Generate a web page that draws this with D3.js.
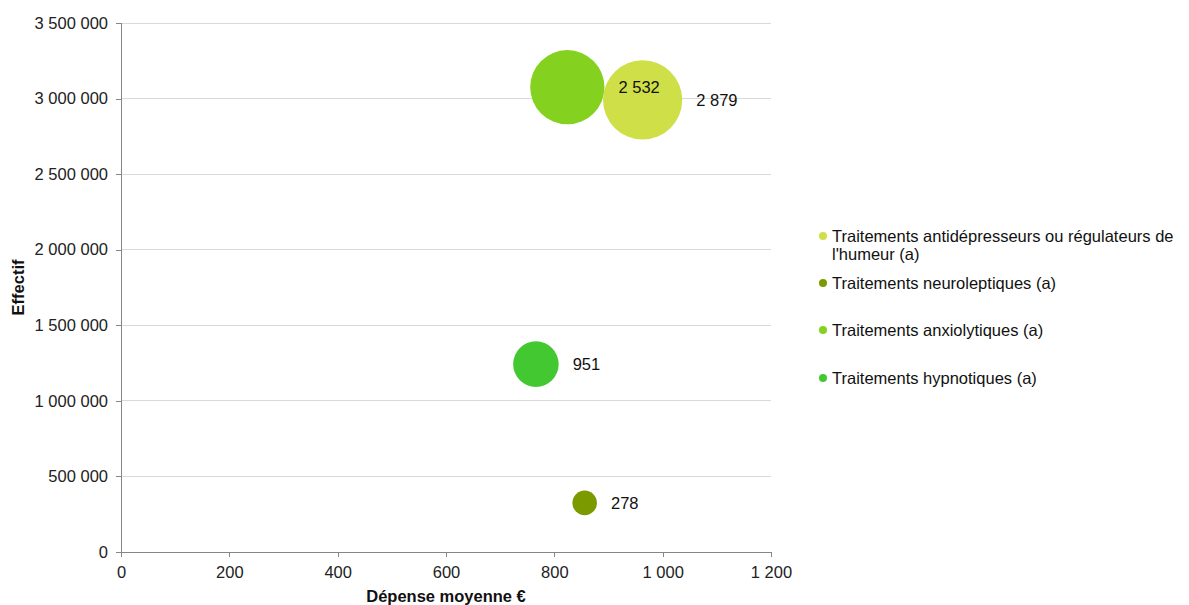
<!DOCTYPE html>
<html><head><meta charset="utf-8">
<script src="https://cdn.jsdelivr.net/npm/d3@7"></script>
<style>body{margin:0;background:#fff;}svg{display:block;font-family:"Liberation Sans",Arial,sans-serif;}</style>
</head><body><svg id="c" width="1189" height="605"></svg>
<script>
const categories = ["Traitements antidépresseurs ou régulateurs de l'humeur (a)","Traitements neuroleptiques (a)","Traitements anxiolytiques (a)","Traitements hypnotiques (a)"];
const depenseMoyenne = [963, 856, 824, 766];
const effectif = [2991000, 325000, 3075000, 1243000];
const depenseTotale = [2879, 278, 2532, 951];
const labels = ["2 879", "278", "2 532", "951"];
const colors = ["#cfdf48", "#7b9a00", "#84d21f", "#43c831"];
const xTicks = [0,200,400,600,800,1000,1200];
const yTicks = [0,500000,1000000,1500000,2000000,2500000,3000000,3500000];
const drawOrder = [3,1,2,0];

const FS = 16.5;
const svg = d3.select("#c");
const L=121, R=771, T=23, B=552;
const x = d3.scaleLinear().domain([0,1200]).range([L,R]);
const y = d3.scaleLinear().domain([0,3500000]).range([B,T]);
const r = d3.scaleSqrt().domain([0,2879]).range([0,39.6]);
const fmt = v => d3.format(",")(v).replace(/,/g," ");

// gridlines
svg.append("g").selectAll("line").data(yTicks.filter(d=>d>0)).join("line")
  .attr("x1",L).attr("x2",R).attr("y1",d=>y(d)).attr("y2",d=>y(d))
  .attr("stroke","#d9d9d9").attr("stroke-width",1).attr("shape-rendering","crispEdges");

// axes
const yAxis = svg.append("g").attr("transform",`translate(${L},0)`)
  .call(d3.axisLeft(y).tickValues(yTicks).tickFormat(fmt).tickSize(5).tickPadding(8));
const xAxis = svg.append("g").attr("transform",`translate(0,${B})`)
  .call(d3.axisBottom(x).tickValues(xTicks).tickFormat(fmt).tickSize(5).tickPadding(6));
[yAxis,xAxis].forEach(a=>{
  a.selectAll("path,line").attr("stroke","#868686").attr("shape-rendering","crispEdges");
  a.select("path.domain").attr("d", a===yAxis ? `M0,${T}V${B}` : `M${L},0H${R}`);
  a.selectAll("text").attr("font-size",FS).attr("fill","#222").attr("font-family","Liberation Sans, Arial, sans-serif");
});
xAxis.selectAll("text").attr("dy","0.9em");

// axis titles
svg.append("text").attr("x",446).attr("y",602).attr("text-anchor","middle")
  .attr("font-size",FS).attr("font-weight","bold").attr("fill","#111").text("Dépense moyenne €");
svg.append("text").attr("transform",`translate(24,${(T+B)/2}) rotate(-90)`).attr("text-anchor","middle")
  .attr("font-size",FS).attr("font-weight","bold").attr("fill","#111").text("Effectif");

// bubbles
svg.append("g").selectAll("circle").data(drawOrder).join("circle")
  .attr("cx",i=>x(depenseMoyenne[i])).attr("cy",i=>y(effectif[i]))
  .attr("r",i=>r(depenseTotale[i])).attr("fill",i=>colors[i]);
svg.append("g").selectAll("text").data(drawOrder).join("text")
  .attr("x",i=>x(depenseMoyenne[i])+r(depenseTotale[i])+14).attr("y",i=>y(effectif[i]))
  .attr("dy","0.35em").attr("font-size",FS).attr("fill","#111").text(i=>labels[i]);

// legend
const legY = [236, 283, 330, 378];
const lg = svg.append("g");
categories.forEach((c,i)=>{
  lg.append("circle").attr("cx",823).attr("cy",legY[i]).attr("r",4).attr("fill",colors[i]);
  const t = lg.append("text").attr("x",832).attr("y",legY[i]).attr("dy","0.35em").attr("font-size",FS).attr("fill","#111");
  if(i===0){
    t.append("tspan").attr("x",832).text("Traitements antidépresseurs ou régulateurs de");
    t.append("tspan").attr("x",832).attr("dy","1.1em").text("l'humeur (a)");
  } else t.text(c);
});
</script></body></html>
